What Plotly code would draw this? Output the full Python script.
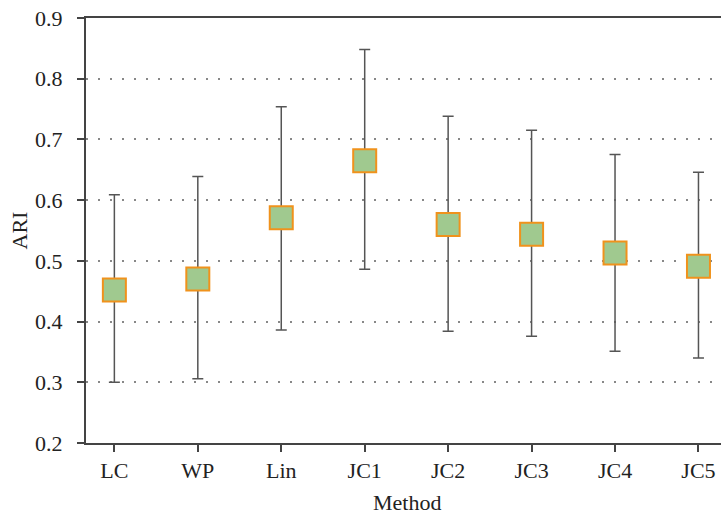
import plotly.graph_objects as go

methods = ["LC", "WP", "Lin", "JC1", "JC2", "JC3", "JC4", "JC5"]
ari_mean = [0.452, 0.470, 0.571, 0.665, 0.560, 0.544, 0.513, 0.491]
ari_upper = [0.609, 0.639, 0.754, 0.848, 0.738, 0.715, 0.675, 0.646]
ari_lower = [0.300, 0.306, 0.386, 0.486, 0.384, 0.376, 0.351, 0.340]
y_ticks = [0.2, 0.3, 0.4, 0.5, 0.6, 0.7, 0.8, 0.9]

err_plus = [u - m for u, m in zip(ari_upper, ari_mean)]
err_minus = [m - l for m, l in zip(ari_mean, ari_lower)]

FONT = "Liberation Serif"
AX = "#444444"

fig = go.Figure()
fig.add_trace(go.Scatter(
    x=list(range(len(methods))), y=ari_mean, mode="markers",
    marker=dict(symbol="square", size=23, color="#a0c98f",
                line=dict(color="#f0921c", width=2)),
    error_y=dict(type="data", symmetric=False, array=err_plus, arrayminus=err_minus,
                 color="#555555", thickness=1.5, width=5.5),
    showlegend=False,
))

fig.update_layout(
    width=721, height=514,
    margin=dict(l=86, r=0, t=18, b=71),
    paper_bgcolor="white", plot_bgcolor="white",
    font=dict(family=FONT, size=22, color="#222222"),
    annotations=[
        dict(text="Method", xref="paper", yref="paper", x=0.505, y=-0.141,
             xanchor="center", yanchor="middle", showarrow=False,
             font=dict(family=FONT, size=22, color="#222222")),
        dict(text="ARI", xref="paper", yref="paper", x=-0.104, y=0.5,
             xanchor="center", yanchor="middle", textangle=-90, showarrow=False,
             font=dict(family=FONT, size=22, color="#222222")),
    ],
)
fig.update_xaxes(
    automargin=False,
    range=[-0.34, 7.27], tickmode="array", tickvals=list(range(len(methods))),
    ticktext=methods, showgrid=False, zeroline=False,
    showline=True, linecolor=AX, linewidth=2, mirror=True,
    ticks="outside", ticklen=7, tickwidth=2, tickcolor=AX,
)
fig.update_yaxes(
    automargin=False,
    range=[0.2, 0.9], tickmode="array", tickvals=y_ticks,
    ticktext=[f"{v:.1f}" for v in y_ticks],
    showgrid=True, gridcolor="#888888", gridwidth=1.5, griddash="2px,10px",
    zeroline=False, showline=True, linecolor=AX, linewidth=2,
    ticks="outside", ticklen=7, tickwidth=2, tickcolor=AX,
    ticklabelstandoff=10,
)

fig.write_html("out.html")
